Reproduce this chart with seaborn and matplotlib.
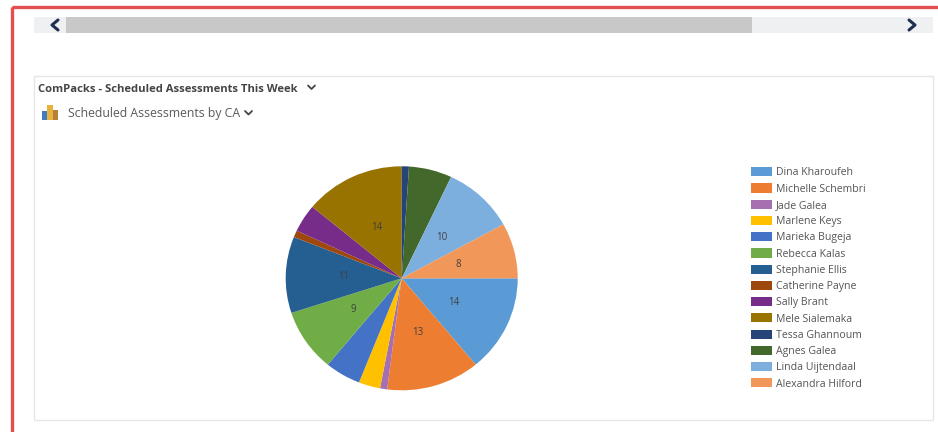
import matplotlib
matplotlib.use("Agg")
import matplotlib.pyplot as plt
from matplotlib.patches import Rectangle
import seaborn as sns

# Scheduled assessments per care adviser
names = ["Dina Kharoufeh", "Michelle Schembri", "Jade Galea", "Marlene Keys",
         "Marieka Bugeja", "Rebecca Kalas", "Stephanie Ellis", "Catherine Payne",
         "Sally Brant", "Mele Sialemaka", "Tessa Ghannoum", "Agnes Galea",
         "Linda Uijtendaal", "Alexandra Hilford"]
assessments = [14, 13, 1, 3, 5, 9, 11, 1, 4, 14, 1, 6, 10, 8]
slice_colors = ["#5B9BD5", "#ED7D31", "#A56FB0", "#FFC000", "#4472C4", "#70AD47", "#255E91",
                "#9E480E", "#772C8A", "#997300", "#264478", "#43682B", "#7CAFDD", "#F1975A"]
panel_title = "ComPacks - Scheduled Assessments This Week"
chart_title = "Scheduled Assessments by CA"

sns.set_theme(style="white")
plt.rcParams["font.family"] = ["Open Sans", "DejaVu Sans"]

W, H = 938, 432
fig = plt.figure(figsize=(W / 100, H / 100), dpi=100, facecolor="white")

# Page furniture, laid out in pixel units
page = fig.add_axes([0, 0, 1, 1])
page.set_xlim(0, W)
page.set_ylim(H, 0)
page.axis("off")

page.add_patch(Rectangle((11.5, 6.5), 960, 460, fill=False, ec="#E2514F", lw=2.4))
page.add_patch(Rectangle((34, 17), 899, 16, fc="#EEF0F2", ec="none"))
page.add_patch(Rectangle((66, 17), 686, 16, fc="#C8C8C8", ec="none"))
page.plot([58, 52, 58], [20, 25, 30], color="#1F2F4F", lw=2.2)
page.plot([909, 915, 909], [20, 25, 30], color="#1F2F4F", lw=2.2)

page.add_patch(Rectangle((33.5, 75.5), 899.5, 344, fc="white", ec="#E6E6E6", lw=1))
page.text(38, 88, panel_title, fontsize=8.1, fontweight="bold", color="#444444",
          va="center_baseline", ha="left")
page.plot([308, 311.5, 315], [85.5, 89, 85.5], color="#444444", lw=1.3)
page.text(68, 112.5, chart_title, fontsize=8.8, color="#5A5A5A",
          va="center_baseline", ha="left")
page.plot([245, 248.5, 252], [111, 114.5, 111], color="#444444", lw=1.3)

# Small bar-chart icon beside the chart name
page.add_patch(Rectangle((42, 111), 5, 9, fc="#3F7CC4", ec="none"))
page.add_patch(Rectangle((47, 105), 6, 15, fc="#E8B33C", ec="none"))
page.add_patch(Rectangle((53, 110), 5, 10, fc="#B8803A", ec="none"))

# Pie, slightly wider than tall
cx, cy, rx, ry = 401.7, 278.3, 116, 112
ax = fig.add_axes([(cx - rx) / W, (H - cy - ry) / H, 2 * rx / W, 2 * ry / H])
palette = sns.color_palette(slice_colors)
total = sum(assessments)
wedges, _, autotexts = ax.pie(
    assessments, colors=palette, startangle=0, counterclock=False, radius=1,
    autopct=lambda p: f"{round(p * total / 100)}" if p * total / 100 >= 8 else "",
    pctdistance=0.5, wedgeprops={"linewidth": 0},
    textprops={"fontsize": 7, "color": "#404040"},
)
ax.set_aspect("auto")
ax.set_xlim(-1, 1)
ax.set_ylim(-1, 1)

# Legend column on the right
page.legend(wedges, names, loc="upper left", bbox_to_anchor=(748, 164),
            bbox_transform=page.transData, frameon=False, fontsize=7.6,
            labelcolor="#555555", handlelength=1.95, handleheight=0.95,
            handletextpad=0.38, labelspacing=0.48, borderpad=0.3, borderaxespad=0)

fig.savefig("out.png", dpi=100)
